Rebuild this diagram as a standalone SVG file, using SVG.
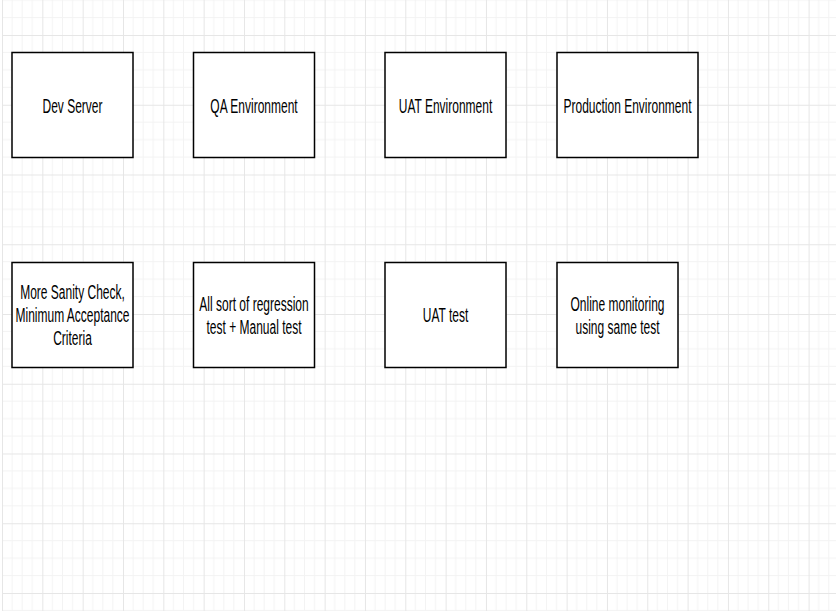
<svg xmlns="http://www.w3.org/2000/svg" width="838" height="611" viewBox="0 0 838 611">
  <defs>
    <pattern id="grid" patternUnits="userSpaceOnUse" x="2" y="35" width="40.33" height="69.75">
      <path d="M10.08 0V69.75M20.17 0V69.75M30.25 0V69.75M0 17.44H40.33M0 34.88H40.33M0 52.31H40.33" stroke="#f3f3f3" stroke-width="1" fill="none"/>
      <path d="M0.5 0V69.75M0 0.5H40.33" stroke="#e6e6e6" stroke-width="1" fill="none"/>
    </pattern>
  </defs>
  <style>
    .box { fill: #ffffff; stroke: #000000; stroke-width: 1.5; }
    .lbl { font-family: "Liberation Sans", Arial, Helvetica, sans-serif; font-size: 12px; fill: #000000; text-anchor: middle; }
  </style>
  <rect x="0" y="0" width="838" height="611" fill="#ffffff"/>
  <rect x="2" y="0" width="834" height="611" fill="url(#grid)"/>
  <g id="connectors"></g>
  <g id="dev-server">
    <rect class="box" x="12" y="52.5" width="121" height="105"/>
    <g transform="scale(1,1.75)"><text class="lbl" x="72.5" y="64.4">Dev Server</text></g>
  </g>
  <g id="qa-environment">
    <rect class="box" x="193.5" y="52.5" width="121" height="105"/>
    <g transform="scale(1,1.75)"><text class="lbl" x="254" y="64.4">QA Environment</text></g>
  </g>
  <g id="uat-environment">
    <rect class="box" x="385" y="52.5" width="121" height="105"/>
    <g transform="scale(1,1.75)"><text class="lbl" x="445.5" y="64.4">UAT Environment</text></g>
  </g>
  <g id="production-environment">
    <rect class="box" x="557" y="52.5" width="141" height="105"/>
    <g transform="scale(1,1.75)"><text class="lbl" x="627.5" y="64.4">Production Environment</text></g>
  </g>
  <g id="sanity-check">
    <rect class="box" x="12" y="262.5" width="121" height="105"/>
    <g transform="scale(1,1.75)"><text class="lbl" x="72.5" y="171">More Sanity Check,</text><text class="lbl" x="72.5" y="184.2">Minimum Acceptance</text><text class="lbl" x="72.5" y="197.4">Criteria</text></g>
  </g>
  <g id="regression-test">
    <rect class="box" x="193.5" y="262.5" width="121" height="105"/>
    <g transform="scale(1,1.75)"><text class="lbl" x="254" y="177.6">All sort of regression</text><text class="lbl" x="254" y="190.8">test + Manual test</text></g>
  </g>
  <g id="uat-test">
    <rect class="box" x="385" y="262.5" width="121" height="105"/>
    <g transform="scale(1,1.75)"><text class="lbl" x="445.5" y="184.2">UAT test</text></g>
  </g>
  <g id="online-monitoring">
    <rect class="box" x="557" y="262.5" width="121" height="105"/>
    <g transform="scale(1,1.75)"><text class="lbl" x="617.5" y="177.6">Online monitoring</text><text class="lbl" x="617.5" y="190.8">using same test</text></g>
  </g>
</svg>
